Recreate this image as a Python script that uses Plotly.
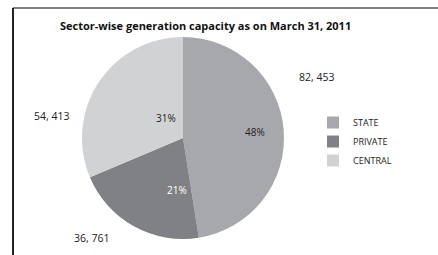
import plotly.graph_objects as go

categories = ["STATE", "PRIVATE", "CENTRAL"]
values = [82453, 36761, 54413]
value_labels = ["82, 453", "36, 761", "54, 413"]
percent_labels = ["48%", "21%", "31%"]
colors = ["#a7a8ab", "#808184", "#d1d2d4"]
title = "Sector-wise generation capacity as on March 31, 2011"

W, H = 438, 255

fig = go.Figure(go.Pie(
    labels=categories,
    values=values,
    sort=False,
    direction="clockwise",
    rotation=0,
    marker=dict(colors=colors, line=dict(width=0)),
    textinfo="none",
    hoverinfo="label+value+percent",
    domain=dict(x=[82 / W, 284 / W], y=[1 - 239 / H, 1 - 37 / H]),
))

def px(x, y):
    return x / W, 1 - y / H

font = "Open Sans"

def label(x, y, text, color="#222", size=10):
    ax, ay = px(x, y)
    fig.add_annotation(x=ax, y=ay, xref="paper", yref="paper", text=text,
                       xanchor="center", yanchor="middle",
                       showarrow=False, font=dict(family=font, size=size, color=color))

# percentage labels inside slices
pct_pos = [(255, 132, "#222"), (177, 190, "#ffffff"), (166, 118, "#222")]
for (x, y, c), t in zip(pct_pos, percent_labels):
    label(x, y, t, c)
# value labels outside
val_pos = [(316, 77), (91, 238), (51, 116)]
for (x, y), t in zip(val_pos, value_labels):
    label(x, y, t, size=10.5)

label(205, 26, f"<b>{title}</b>", "#111", size=11)

# frame lines (top and left)
fig.add_shape(type="line", xref="paper", yref="paper", x0=13 / W, x1=1, y0=1 - 8 / H, y1=1 - 8 / H,
              line=dict(color="#555", width=1.5))
fig.add_shape(type="line", xref="paper", yref="paper", x0=13 / W, x1=13 / W, y0=1 - 8 / H, y1=0,
              line=dict(color="#222", width=2))

fig.update_layout(
    width=W, height=H,
    margin=dict(l=0, r=0, t=0, b=0),
    paper_bgcolor="white", plot_bgcolor="white",
    showlegend=True,
    legend=dict(x=313 / W, y=1 - 108 / H, xanchor="left", yanchor="top",
                font=dict(family=font, size=9, color="#222"),
                itemwidth=30, bgcolor="rgba(0,0,0,0)"),
)

fig.write_html("out.html", config={"displayModeBar": False},
               post_script="document.body.style.margin='0';")
